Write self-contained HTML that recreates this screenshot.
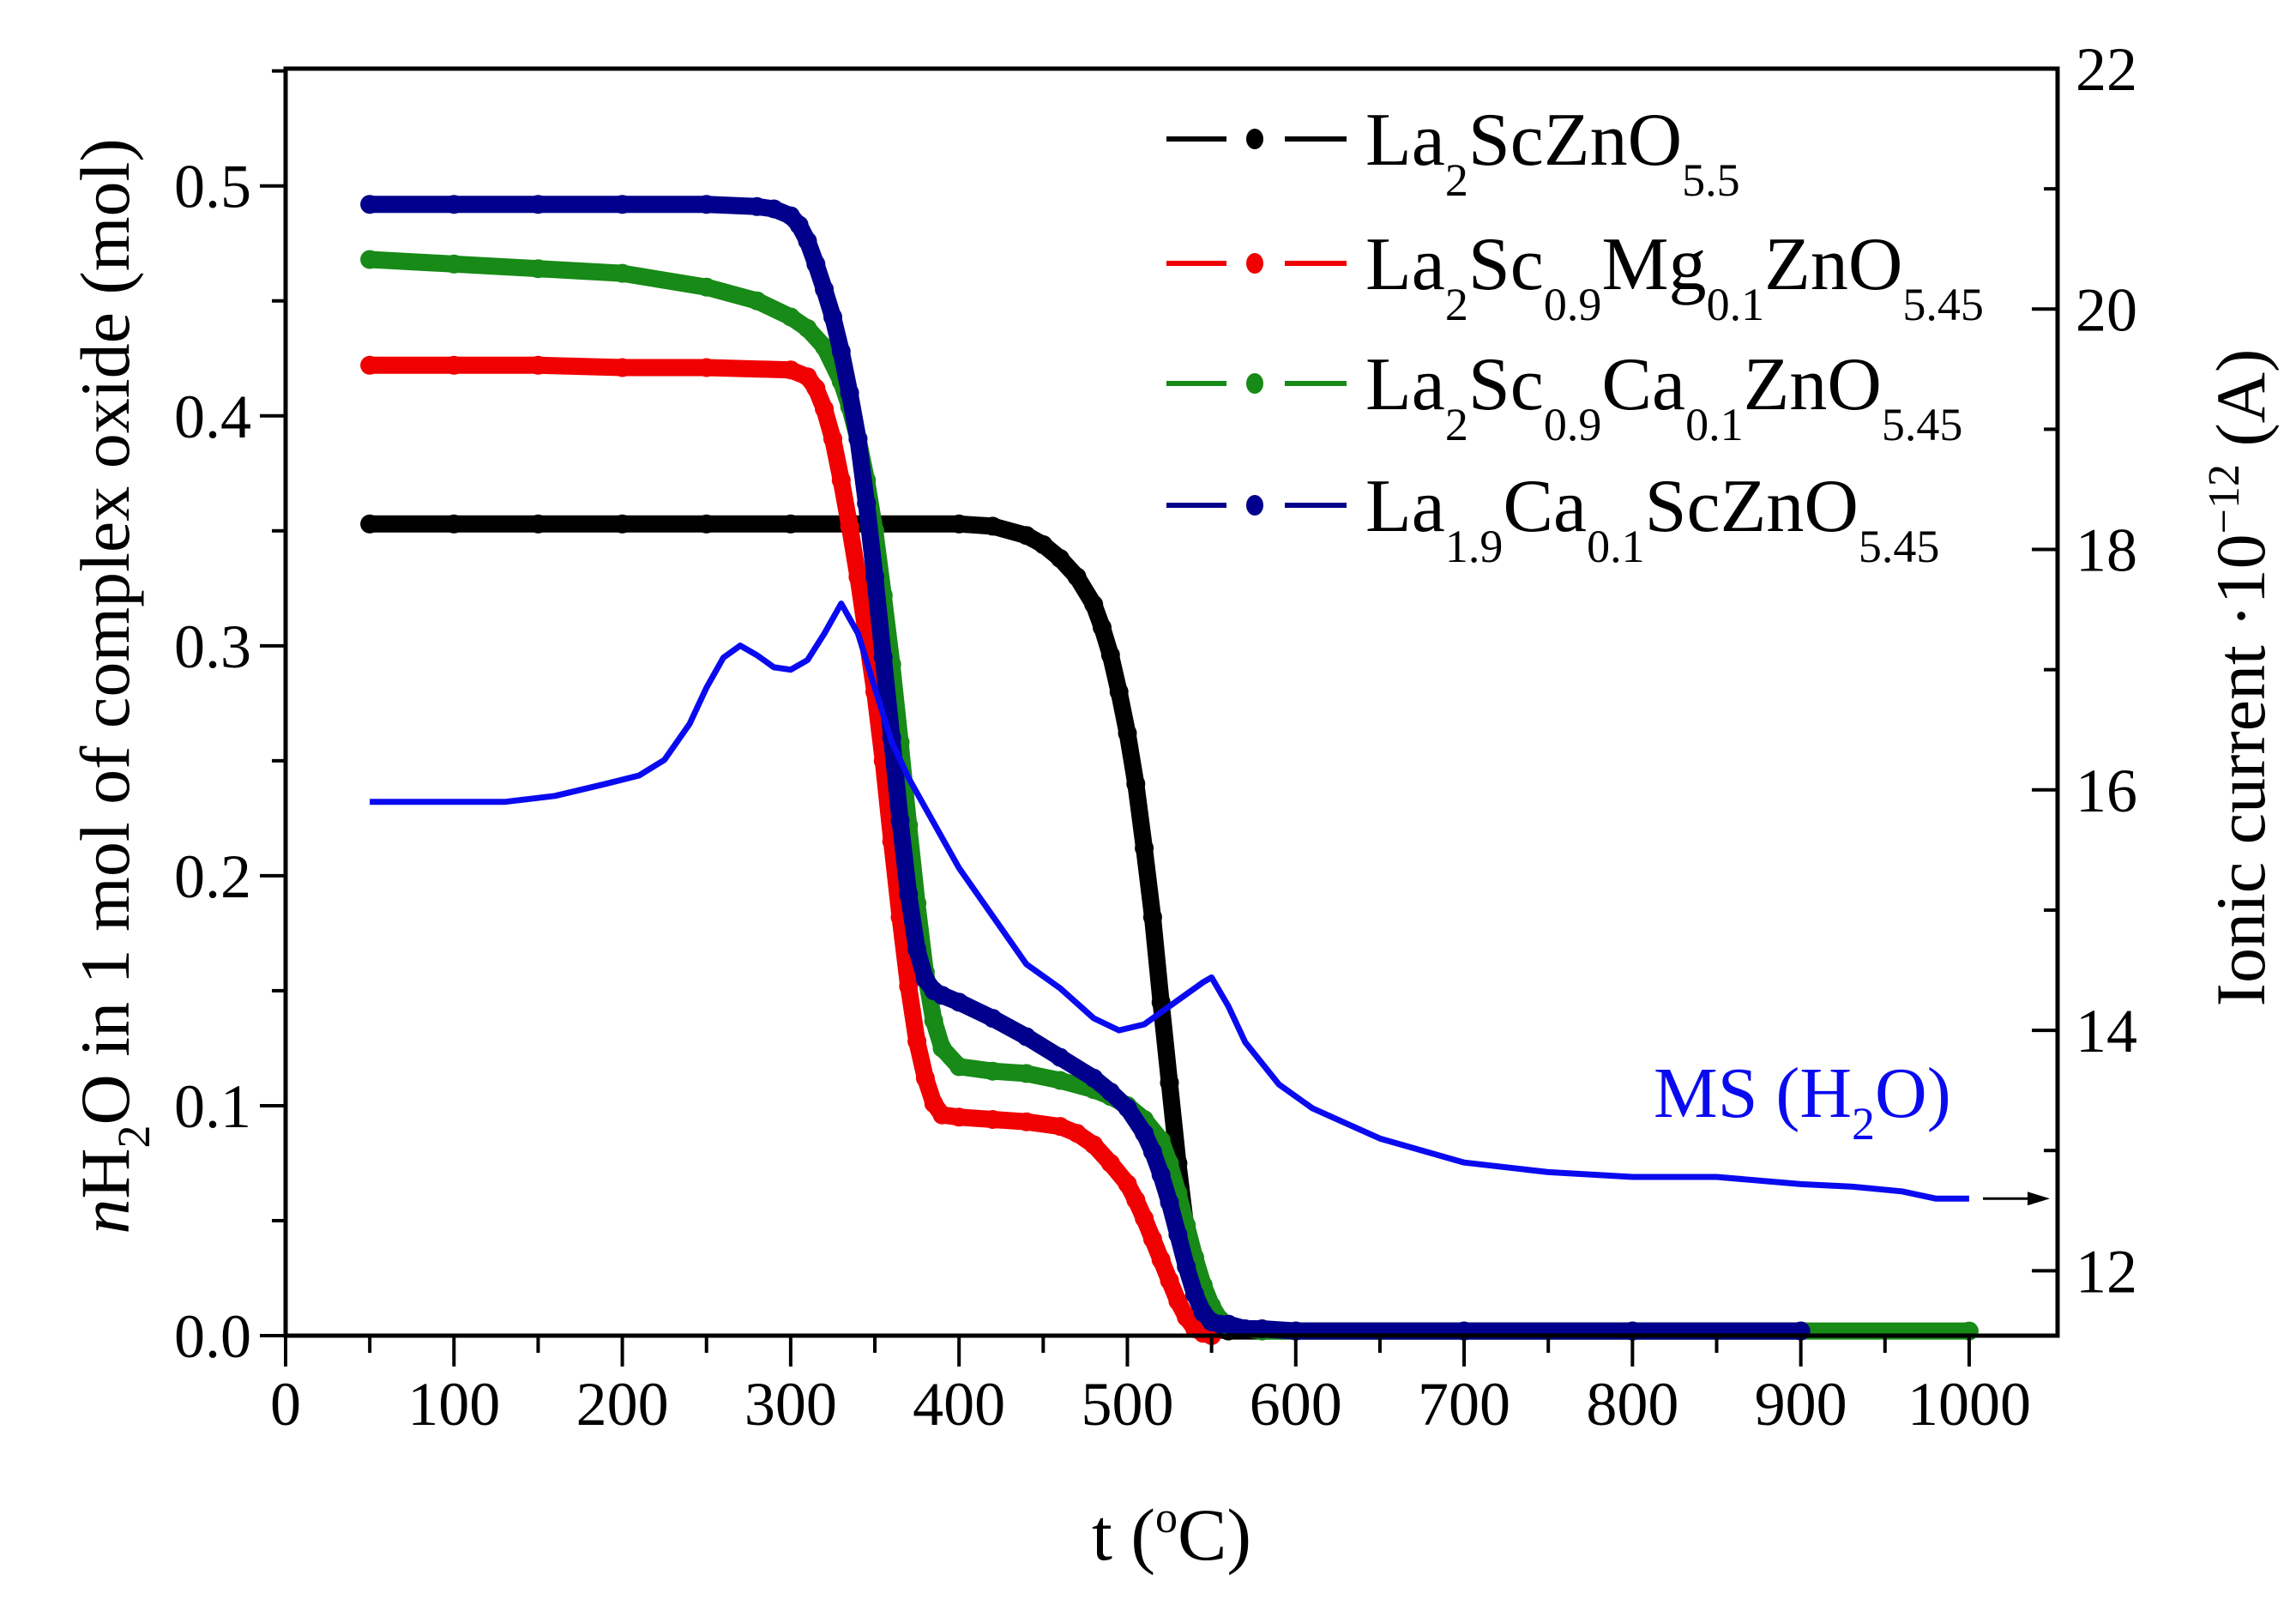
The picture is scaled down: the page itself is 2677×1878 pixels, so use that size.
<!DOCTYPE html>
<html><head><meta charset="utf-8"><style>
html,body{margin:0;padding:0;background:#fff;}
svg{display:block;font-family:"Liberation Serif","DejaVu Serif",serif;}
</style></head><body>
<svg id="chart" width="2677" height="1878" viewBox="0 0 2677 1878">
<g id="series"></g>
<g id="axes"></g>
<g id="legend"></g>
</svg>
<script>
// ---- data ----
const xTicks = [0,100,200,300,400,500,600,700,800,900,1000];
const yTicks = [0.0,0.1,0.2,0.3,0.4,0.5];
const yTickLabels = ["0.0","0.1","0.2","0.3","0.4","0.5"];
const y2Ticks = [12,14,16,18,20,22];

const blackT = [50,100,150,200,250,300,350,400,420,440,450,460,470,480,485,490,495,500,505,510,515,520,525,530,535,540,545,550,560,600,700,800,900];
const blackN = [0.353,0.353,0.353,0.353,0.353,0.353,0.353,0.353,0.352,0.348,0.344,0.338,0.330,0.318,0.308,0.296,0.280,0.262,0.240,0.212,0.182,0.145,0.110,0.075,0.045,0.020,0.008,0.003,0.002,0.002,0.002,0.002,0.002];

const redT = [50,100,150,200,250,300,310,315,320,325,330,335,340,345,350,355,360,365,370,375,380,385,390,400,420,440,460,470,480,490,500,505,510,515,520,525,530,535,540,545,550];
const redN = [0.422,0.422,0.422,0.421,0.421,0.420,0.417,0.412,0.403,0.390,0.372,0.352,0.330,0.305,0.280,0.250,0.215,0.182,0.152,0.128,0.112,0.101,0.096,0.095,0.094,0.093,0.091,0.088,0.083,0.075,0.066,0.059,0.051,0.042,0.033,0.024,0.015,0.008,0.003,0.001,0.0];

const greenT = [50,100,150,200,250,280,300,310,320,330,335,340,345,350,355,360,365,370,375,380,385,390,400,420,440,460,480,490,500,510,520,525,530,535,540,545,550,555,560,580,600,700,800,900,1000];
const greenN = [0.468,0.466,0.464,0.462,0.456,0.450,0.443,0.438,0.430,0.415,0.404,0.390,0.372,0.350,0.322,0.292,0.258,0.222,0.188,0.158,0.137,0.125,0.117,0.115,0.114,0.111,0.107,0.104,0.100,0.094,0.085,0.075,0.062,0.048,0.034,0.022,0.013,0.007,0.004,0.002,0.002,0.002,0.002,0.002,0.002];

const blueT = [50,100,150,200,250,280,290,300,305,310,315,320,325,330,335,340,345,350,355,360,365,370,375,380,385,390,400,420,440,460,480,490,500,510,515,520,525,530,535,540,545,550,555,560,570,580,600,700,800,900];
const blueN = [0.492,0.492,0.492,0.492,0.492,0.491,0.490,0.487,0.483,0.476,0.466,0.455,0.443,0.428,0.410,0.390,0.362,0.330,0.295,0.260,0.224,0.192,0.168,0.155,0.150,0.148,0.145,0.138,0.130,0.121,0.112,0.106,0.099,0.088,0.080,0.070,0.058,0.044,0.030,0.018,0.010,0.006,0.005,0.005,0.003,0.003,0.002,0.002,0.002,0.002];

const msT = [50,100,130,160,190,210,225,240,250,260,270,280,290,300,310,320,330,340,350,360,370,380,400,420,440,460,480,495,510,530,545,550,560,570,590,610,650,700,750,800,850,900,930,960,980,1000];
const msI = [15.9,15.9,15.9,15.95,16.05,16.12,16.25,16.55,16.85,17.1,17.2,17.12,17.02,17.0,17.08,17.3,17.55,17.3,16.85,16.4,16.1,15.85,15.35,14.95,14.55,14.35,14.1,14.0,14.05,14.25,14.4,14.44,14.2,13.9,13.55,13.35,13.1,12.9,12.82,12.78,12.78,12.72,12.7,12.66,12.6,12.6];

// ---- scales ----
const X0=333, X1=2399, XMAX=1052.5;
const YB=1557, YT=80, YMAX=0.551;
const Y2MIN=11.46, Y2MAX=22;
const sx = v => X0 + v/XMAX*(X1-X0);
const sy = v => YB - v/YMAX*(YB-YT);
const sy2 = v => YB - (v-Y2MIN)/(Y2MAX-Y2MIN)*(YB-YT);
const NS="http://www.w3.org/2000/svg";
function mk(tag, attrs, parent){const e=document.createElementNS(NS,tag);for(const k in attrs)e.setAttribute(k,attrs[k]);parent.appendChild(e);return e;}

const gS=document.getElementById('series'), gA=document.getElementById('axes'), gL=document.getElementById('legend');

function drawSeries(T,N,color,name){
  const g=mk('g',{},gS);
  
  
  const pts=T.map((t,i)=>sx(t).toFixed(1)+','+sy(N[i]).toFixed(1)).join(' ');
  const pl=mk('polyline',{points:pts,fill:'none',stroke:color,'stroke-width':20,'stroke-linejoin':'round','stroke-linecap':'round'},g);
  
  
  T.forEach((t,i)=>{
    const c=mk('circle',{cx:sx(t).toFixed(1),cy:sy(N[i]).toFixed(1),r:11,fill:color},g);
    
    
  });
}
drawSeries(blackT,blackN,'#000000','series-la2sczno');
drawSeries(redT,redN,'#f00000','series-mg-doped');
drawSeries(greenT,greenN,'#178a17','series-ca-doped-sc');
drawSeries(blueT,blueN,'#00008c','series-ca-doped-la');

// MS curve
const msPts=msT.map((t,i)=>sx(t).toFixed(1)+','+sy2(msI[i]).toFixed(1)).join(' ');
const ms=mk('polyline',{points:msPts,fill:'none',stroke:'#0a0af0','stroke-width':7,'stroke-linejoin':'round'},gS);


const arrowY=sy2(msI[msI.length-1]);
const ar=mk('line',{x1:2312,y1:arrowY,x2:2370,y2:arrowY,stroke:'#000','stroke-width':3},gS);


const ah=mk('polygon',{points:`2390,${arrowY} 2364,${arrowY-8} 2364,${arrowY+8}`,fill:'#000'},gS);



// axes frame
const fr=mk('rect',{x:X0,y:YT,width:X1-X0,height:YB-YT,fill:'none',stroke:'#000','stroke-width':5},gA);



// x ticks
xTicks.forEach(v=>{
  const x=sx(v);
  mk('line',{x1:x,y1:YB,x2:x,y2:YB+36,stroke:'#000','stroke-width':4},gA);
  const t=mk('text',{x:x,y:YB+104,'font-size':72,'text-anchor':'middle'},gA);
  t.textContent=v;
  
  
  if(v<1000){mk('line',{x1:sx(v+50),y1:YB,x2:sx(v+50),y2:YB+20,stroke:'#000','stroke-width':4},gA);}
});
// left y ticks
yTicks.forEach((v,i)=>{
  const y=sy(v);
  mk('line',{x1:X0-30,y1:y,x2:X0,y2:y,stroke:'#000','stroke-width':4},gA);
  const t=mk('text',{x:293,y:y+25,'font-size':72,'text-anchor':'end'},gA);
  t.textContent=yTickLabels[i];
  
  
  mk('line',{x1:X0-16,y1:sy(v+0.05),x2:X0,y2:sy(v+0.05),stroke:'#000','stroke-width':4},gA);
});
// right y ticks
y2Ticks.forEach(v=>{
  const y=sy2(v);
  mk('line',{x1:X1-30,y1:y,x2:X1,y2:y,stroke:'#000','stroke-width':4},gA);
  const t=mk('text',{x:2420,y:y+25,'font-size':72},gA);
  t.textContent=v;
  
  
  if(v<22) mk('line',{x1:X1-16,y1:sy2(v+1),x2:X1,y2:sy2(v+1),stroke:'#000','stroke-width':4},gA);
});
</script>
<script>
const svg=document.getElementById('chart');
svg.insertAdjacentHTML('beforeend', `
<text x="1366" y="1818" font-size="86" text-anchor="middle">t (<tspan dy="-32" font-size="52">o</tspan><tspan dy="32">C)</tspan></text>
<text transform="translate(150,800) rotate(-90)" font-size="82" text-anchor="middle"><tspan font-style="italic">n</tspan>H<tspan dy="24" font-size="54">2</tspan><tspan dy="-24">O in 1 mol of complex oxide (mol)</tspan></text>
<text transform="translate(2640,790) rotate(-90)" font-size="82" text-anchor="middle">Ionic current ·10<tspan dy="-30" font-size="52">−12</tspan><tspan dy="30"> (A)</tspan></text>
<text x="1928" y="1302" font-size="84" fill="#0a0af0">MS (H<tspan dy="26" font-size="54">2</tspan><tspan dy="-26">O)</tspan></text>
`);
const legItems=[
 {c:'#000000',y:162,name:'legend-la2sczno',h:'La<tspan dy="36" font-size="54">2</tspan><tspan dy="-36">ScZnO</tspan><tspan dy="36" font-size="54">5.5</tspan>'},
 {c:'#f00000',y:307,name:'legend-mg-doped',h:'La<tspan dy="36" font-size="54">2</tspan><tspan dy="-36">Sc</tspan><tspan dy="36" font-size="54">0.9</tspan><tspan dy="-36">Mg</tspan><tspan dy="36" font-size="54">0.1</tspan><tspan dy="-36">ZnO</tspan><tspan dy="36" font-size="54">5.45</tspan>'},
 {c:'#178a17',y:447,name:'legend-ca-doped-sc',h:'La<tspan dy="36" font-size="54">2</tspan><tspan dy="-36">Sc</tspan><tspan dy="36" font-size="54">0.9</tspan><tspan dy="-36">Ca</tspan><tspan dy="36" font-size="54">0.1</tspan><tspan dy="-36">ZnO</tspan><tspan dy="36" font-size="54">5.45</tspan>'},
 {c:'#00008c',y:589,name:'legend-ca-doped-la',h:'La<tspan dy="36" font-size="54">1.9</tspan><tspan dy="-36">Ca</tspan><tspan dy="36" font-size="54">0.1</tspan><tspan dy="-36">ScZnO</tspan><tspan dy="36" font-size="54">5.45</tspan>'}
];
const gLeg=document.getElementById('legend');
legItems.forEach(it=>{
  gLeg.insertAdjacentHTML('beforeend',`<g>
  <line x1="1360" y1="${it.y}" x2="1430" y2="${it.y}" stroke="${it.c}" stroke-width="6"/>
  <line x1="1498" y1="${it.y}" x2="1570" y2="${it.y}" stroke="${it.c}" stroke-width="6"/>
  <ellipse cx="1463" cy="${it.y}" rx="10" ry="12" fill="${it.c}"/>
  <text x="1592" y="${it.y+30}" font-size="88" fill="#000">${it.h}</text></g>`);
});
</script>
</body></html>
